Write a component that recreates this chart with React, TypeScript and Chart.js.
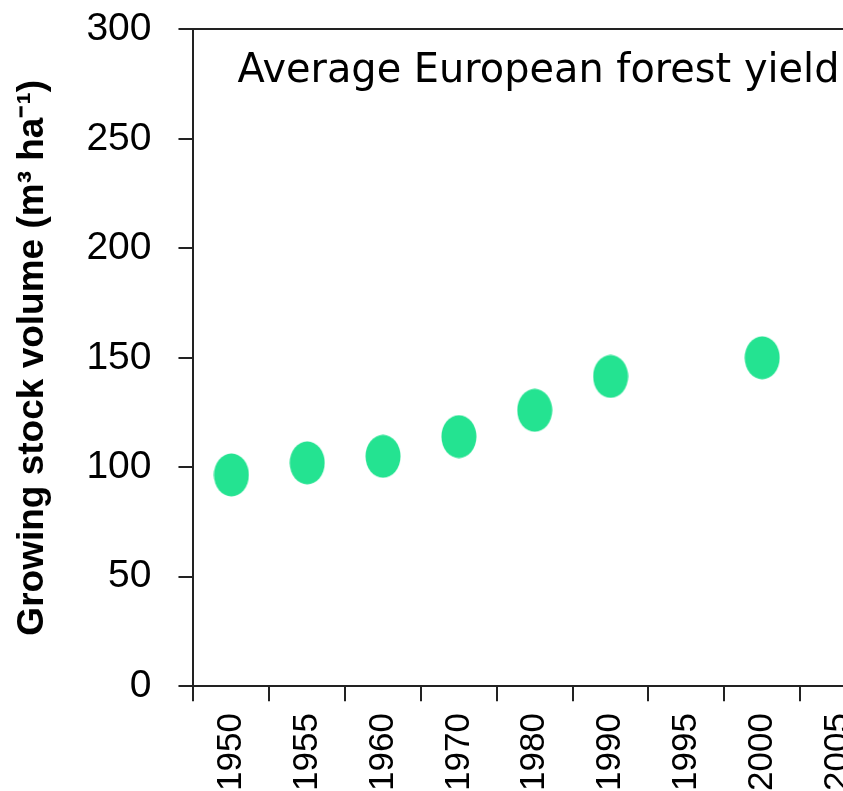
import { useEffect, useRef } from "react";
import { Chart, registerables } from "chart.js";

Chart.register(...registerables);

// ---- data ----
const years = ["1950", "1955", "1960", "1970", "1980", "1990", "1995", "2000", "2005"];
const volume: (number | null)[] = [96.5, 102, 105, 114, 126, 141.5, null, 150, null];
const yTicks = [0, 50, 100, 150, 200, 250, 300];
const chartTitle = "Average European forest yield";
const yTitle = "Growing stock volume (m³ ha⁻¹)";

const FONT = "'Liberation Sans', Arial, sans-serif";
const AXIS = "#222";
const GREEN = "rgb(36,227,145)";

function makeEllipse(w: number, h: number, color: string) {
  const c = document.createElement("canvas");
  c.width = w;
  c.height = h;
  const g = c.getContext("2d")!;
  g.fillStyle = color;
  g.beginPath();
  g.ellipse(w / 2, h / 2, w / 2 - 0.5, h / 2 - 0.5, 0, 0, Math.PI * 2);
  g.fill();
  return c;
}

const insideTitle = {
  id: "insideTitle",
  afterDraw(chart: any) {
    const { ctx, chartArea } = chart;
    ctx.save();
    ctx.font = "40px 'Comic Sans MS', 'DejaVu Sans', sans-serif";
    ctx.fillStyle = "#000";
    ctx.textAlign = "left";
    ctx.textBaseline = "alphabetic";
    ctx.fillText(chartTitle, chartArea.left + 44, chartArea.top + 53, 602);
    ctx.restore();
  },
};

export default function App() {
  const ref = useRef<HTMLCanvasElement | null>(null);

  useEffect(() => {
    if (!ref.current) return;
    const dot = makeEllipse(36, 44, GREEN);
    const chart = new Chart(ref.current, {
      type: "line",
      data: {
        labels: years,
        datasets: [
          {
            data: volume,
            showLine: false,
            pointStyle: dot as any,
            pointRadius: 20,
            backgroundColor: GREEN,
            borderColor: GREEN,
          },
        ],
      },
      options: {
        animation: false,
        responsive: true,
        maintainAspectRatio: false,
        layout: { padding: { left: 0, right: 24, top: 6, bottom: 0 } },
        plugins: {
          legend: { display: false },
          tooltip: { enabled: false },
        },
        scales: {
          x: {
            type: "category",
            offset: true,
            grid: {
              offset: true,
              drawOnChartArea: false,
              drawTicks: true,
              tickLength: 15,
              color: AXIS,
              lineWidth: 2,
            },
            border: { display: true, color: AXIS, width: 2 },
            ticks: {
              autoSkip: false,
              maxRotation: 90,
              minRotation: 90,
              padding: 12,
              color: "#000",
              font: { family: FONT, size: 35 },
            },
          },
          y: {
            min: 0,
            max: 300,
            afterBuildTicks: (axis: any) => {
              axis.ticks = yTicks.map((v) => ({ value: v }));
            },
            grid: {
              color: (c: any) => (c.tick && c.tick.value === 300 ? AXIS : "rgba(0,0,0,0)"),
              tickColor: AXIS,
              tickLength: 15,
              lineWidth: 2,
            },
            border: { display: true, color: AXIS, width: 2 },
            ticks: {
              padding: 27,
              color: "#000",
              font: { family: FONT, size: 39 },
            },
            title: {
              display: true,
              text: yTitle,
              color: "#000",
              font: { family: FONT, size: 37, weight: "bold" },
              padding: { top: 11, bottom: 4 },
            },
          },
        },
      },
      plugins: [insideTitle],
    } as any);
    return () => chart.destroy();
  }, []);

  return (
    <div
      style={{
        position: "absolute",
        left: 0,
        top: 0,
        width: 843,
        height: 791,
        overflow: "hidden",
        background: "#fff",
      }}
    >
      <div style={{ position: "absolute", left: 0, top: -21, width: 900, height: 824 }}>
        <canvas ref={ref} />
      </div>
    </div>
  );
}
